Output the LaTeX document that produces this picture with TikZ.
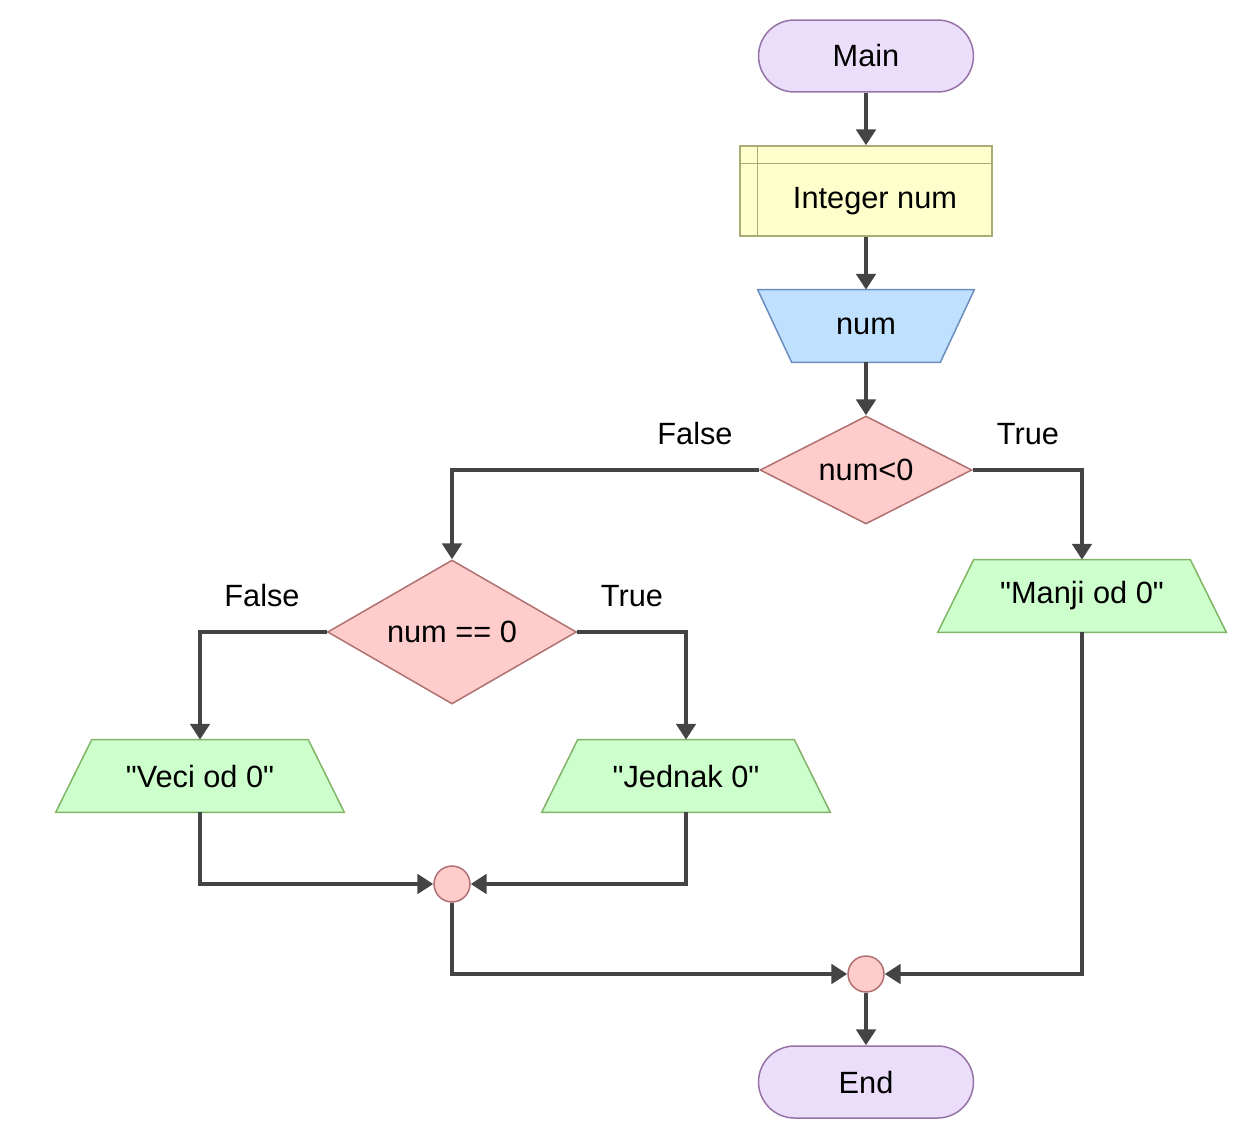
\documentclass[tikz,border=0pt]{standalone}
\usepackage{fontspec}
\setmainfont{Liberation Sans}
\usepackage{xcolor}
\usetikzlibrary{arrows.meta,shapes.geometric,backgrounds,positioning}
\definecolor{termfill}{HTML}{EBDEFB}
\definecolor{termline}{HTML}{9673A6}
\definecolor{declfill}{HTML}{FFFFCC}
\definecolor{declline}{HTML}{ABAB77}
\definecolor{inputfill}{HTML}{BFE0FF}
\definecolor{inputline}{HTML}{6C8EBF}
\definecolor{condfill}{HTML}{FFCCCC}
\definecolor{condline}{HTML}{B07070}
\definecolor{outfill}{HTML}{CCFFCC}
\definecolor{outline}{HTML}{82B366}
\definecolor{flowline}{HTML}{444444}
\newcommand{\quoted}[1]{\textquotedbl#1\textquotedbl}
% slanted boxes drawn behind a plain node
\newcommand{\outshape}[1]{\draw[draw=outline, fill=outfill, line width=0.85pt] (#1.north west) -- (#1.north east) -- ([xshift=0.72cm]#1.south east) -- ([xshift=-0.72cm]#1.south west) -- cycle;}
\newcommand{\inshape}[1]{\draw[draw=inputline, fill=inputfill, line width=0.85pt] (#1.north west) -- (#1.north east) -- ([xshift=-0.68cm]#1.south east) -- ([xshift=0.68cm]#1.south west) -- cycle;}
\tikzset{
    every node/.append style={font=\fontsize{17.5}{21}\selectfont},
    terminal/.style={draw=termline, fill=termfill, line width=0.85pt, rounded corners=0.72cm, minimum width=4.3cm, minimum height=1.44cm, inner sep=0pt},
    declare/.style={draw=declline, fill=declfill, line width=0.85pt, minimum width=5.04cm, minimum height=1.8cm, inner sep=0pt},
    inputbox/.style={minimum width=4.32cm, minimum height=1.44cm, inner sep=0pt},
    outputbox/.style={minimum width=4.32cm, minimum height=1.44cm, inner sep=0pt},
    decision/.style={diamond, draw=condline, fill=condfill, line width=0.85pt, inner sep=0pt},
    joint/.style={circle, draw=condline, fill=condfill, line width=0.85pt, minimum size=0.72cm, inner sep=0pt},
    flow/.style={draw=flowline, line width=2.2pt, -{Triangle[length=9pt,width=11pt]}}
}
\begin{document}
\begin{tikzpicture}[x=0.02cm, y=-0.02cm]
    \useasboundingbox (0,0) rectangle (1247,1139);
    \node[terminal] at (866,56) (main) {Main};
    \node[declare, label={[xshift=0.18cm, yshift=-0.2cm]center:Integer num}] at (866,191) (numdecl) {};
    \draw[declline, line width=0.85pt] ([xshift=0.36cm]numdecl.north west) -- ([xshift=0.36cm]numdecl.south west);
    \draw[declline, line width=0.85pt] ([yshift=-0.36cm]numdecl.north west) -- ([yshift=-0.36cm]numdecl.north east);
    \node[inputbox] at (866,326) (numin) {num};
    \node[decision, aspect=1.96, minimum width=4.24cm, minimum height=2.16cm] at (866,470) (less) {num<0};
    \node[decision, aspect=1.73, minimum width=4.98cm, minimum height=2.88cm] at (452,632) (equal) {num == 0};
    \node[outputbox] at (1082,596) (manji) {\quoted{Manji od 0}};
    \node[outputbox] at (200,776) (veci) {\quoted{Veci od 0}};
    \node[outputbox] at (686,776) (jednak) {\quoted{Jednak 0}};
    \node[joint] at (452,884) (join1) {};
    \node[joint] at (866,974) (join2) {};
    \node[terminal] at (866,1082) (end) {End};
    \begin{scope}[on background layer]
        \inshape{numin}
        \outshape{manji}
        \outshape{veci}
        \outshape{jednak}
    \end{scope}
    \node at (695,434) (f1) {False};
    \node at (1028,434) (t1) {True};
    \node at (262,596) (f2) {False};
    \node at (632,596) (t2) {True};
    \draw[flow] (main) -- (numdecl);
    \draw[flow] (numdecl) -- (numin);
    \draw[flow] (numin) -- (less);
    \draw[flow] (less.west) -| (equal.north);
    \draw[flow] (less.east) -| (manji.north);
    \draw[flow] (equal.west) -| (veci.north);
    \draw[flow] (equal.east) -| (jednak.north);
    \draw[flow] (veci.south) |- (join1.west);
    \draw[flow] (jednak.south) |- (join1.east);
    \draw[flow] (join1.south) |- (join2.west);
    \draw[flow] (manji.south) |- (join2.east);
    \draw[flow] (join2) -- (end);
\end{tikzpicture}
\end{document}
